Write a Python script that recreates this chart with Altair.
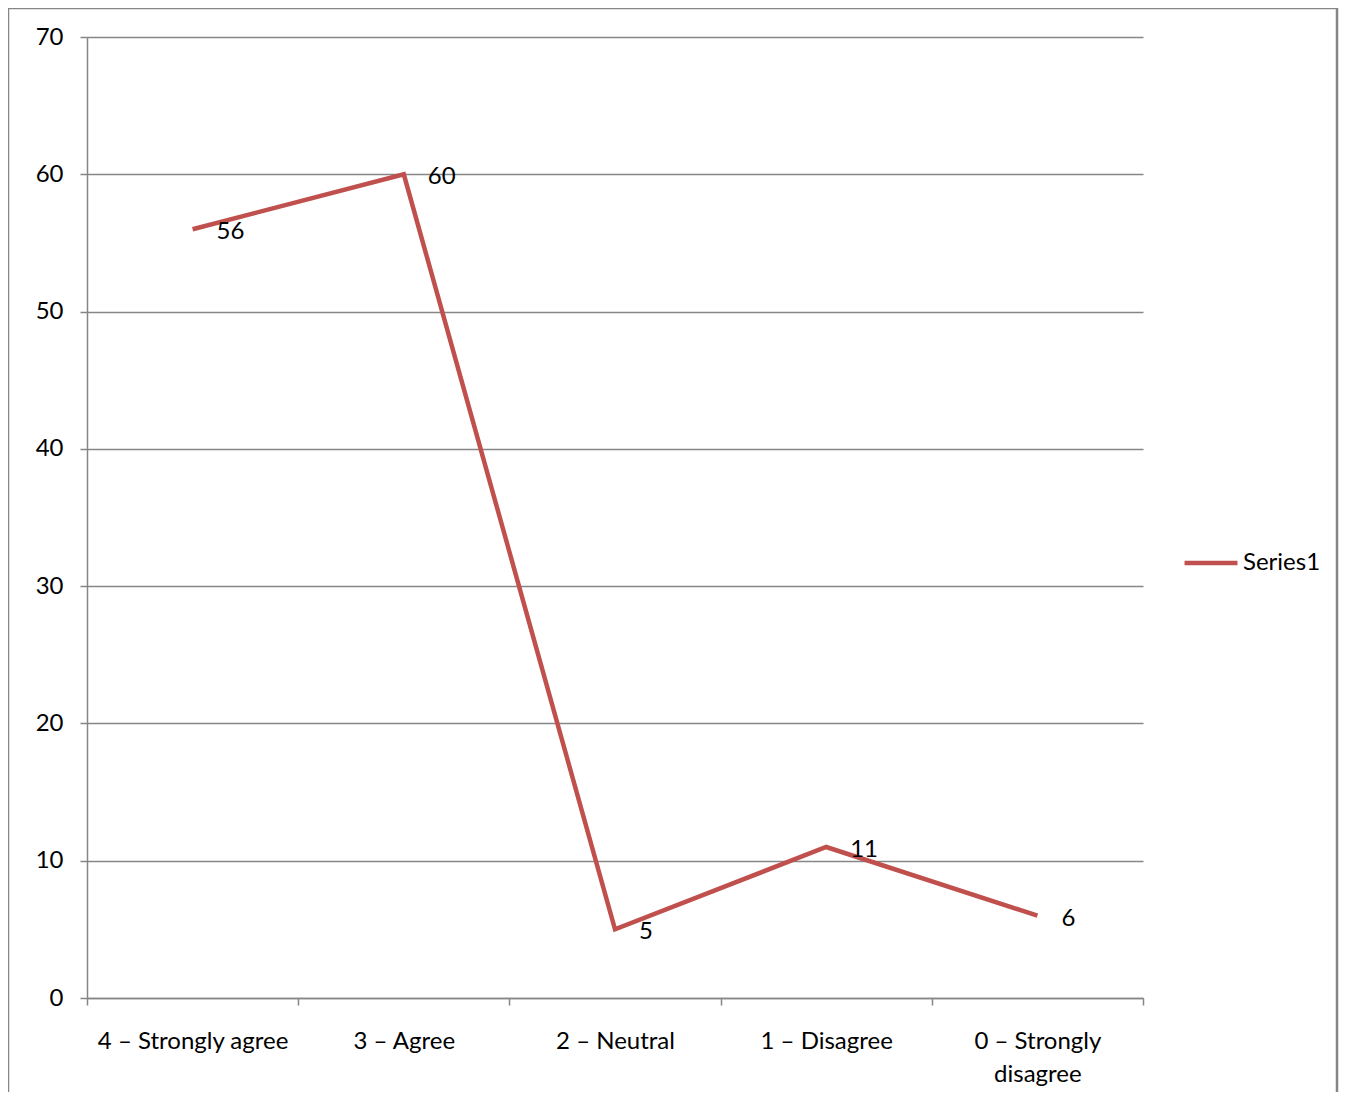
import altair as alt
import pandas as pd

categories = ["4 – Strongly agree", "3 – Agree", "2 – Neutral", "1 – Disagree", "0 – Strongly disagree"]
values = [56, 60, 5, 11, 6]
series = ["Series1"] * 5

df = pd.DataFrame({"category": categories, "value": values, "series": series})

FONT = "Lato"
FS = 24
GRAY = "#868686"
RED = "#C0504D"

x_enc = alt.X("category:N", sort=categories, title=None,
              scale=alt.Scale(paddingInner=0, paddingOuter=0),
              axis=alt.Axis(labelAngle=0, tickBand="extent", domainColor=GRAY, tickColor=GRAY,
                            domainWidth=1.5, tickWidth=1.5, tickSize=7, labelPadding=24,
                            labelFont=FONT, labelFontSize=FS, labelColor="#000",
                            labelLineHeight=33, labelBaseline="top", labelLimit=400,
                            labelExpr="datum.label == '0 – Strongly disagree' ? ['0 – Strongly', 'disagree'] : datum.label",
                            grid=False))
y_enc = alt.Y("value:Q", title=None,
              scale=alt.Scale(domain=[0, 70], nice=False),
              axis=alt.Axis(values=[0, 10, 20, 30, 40, 50, 60, 70], domainColor=GRAY, tickColor=GRAY,
                            domainWidth=1.5, tickWidth=1.5, tickSize=7, labelPadding=17,
                            labelFont=FONT, labelFontSize=FS, labelColor="#000",
                            gridColor=GRAY, gridWidth=1.5, grid=True))

line = alt.Chart(df).mark_line(strokeWidth=4.5, color=RED).encode(
    x=x_enc, y=y_enc,
    color=alt.Color("series:N", scale=alt.Scale(range=[RED]),
                    legend=alt.Legend(title=None, orient="none", legendX=1095, legendY=497,
                                      symbolType="stroke", symbolSize=2800, symbolStrokeWidth=4.5,
                                      labelFont=FONT, labelFontSize=FS, labelColor="#000",
                                      labelOffset=3))
)

labels = alt.Chart(df).mark_text(align="left", baseline="middle", dx=24, dy=3,
                                 font=FONT, fontSize=FS, color="#000").encode(
    x=alt.X("category:N", sort=categories),
    y=alt.Y("value:Q"),
    text="value:Q"
)

border = alt.Chart(alt.Data(values=[{"a": 1}])).mark_rect(
    fill=None, stroke=GRAY, strokeWidth=2.5).encode(
    x=alt.value(-79), x2=alt.value(1250), y=alt.value(-29), y2=alt.value(1100)
)

chart = alt.layer(border, line, labels).properties(
    width=1056, height=961,
    padding={"left": 79, "top": 29, "right": 196, "bottom": 94},
    autosize=alt.AutoSizeParams(type="none"),
).configure_view(stroke=None)

chart.save("out.html", embed_options={"renderer": "svg", "actions": False})
